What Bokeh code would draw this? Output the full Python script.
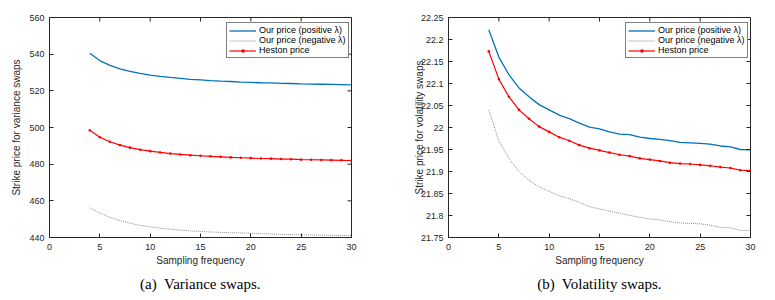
import math
from bokeh.plotting import figure
from bokeh.layouts import row
from bokeh.models import Title, FixedTicker, Range1d
from bokeh.embed import file_html
from bokeh.resources import INLINE

freq = list(range(4, 31))

var_pos = [540.5, 536.5, 533.9, 532.0, 530.6, 529.5, 528.6, 527.9, 527.3, 526.8,
           526.3, 526.0, 525.6, 525.3, 525.1, 524.8, 524.6, 524.4, 524.3, 524.1,
           524.0, 523.8, 523.7, 523.6, 523.5, 523.4, 523.3]
var_neg = [456.2, 453.3, 451.0, 449.3, 447.8, 446.6, 445.8, 445.1, 444.5, 444.0,
           443.6, 443.3, 443.0, 442.8, 442.6, 442.5, 442.3, 442.1, 441.9, 441.7,
           441.6, 441.5, 441.4, 441.3, 441.2, 441.1, 441.0]
var_heston = [498.5, 494.7, 492.2, 490.4, 489.0, 487.9, 487.1, 486.4, 485.8, 485.3,
              484.9, 484.6, 484.3, 484.0, 483.7, 483.5, 483.3, 483.1, 483.0, 482.8,
              482.7, 482.5, 482.4, 482.3, 482.2, 482.1, 482.0]

vol_pos = [22.222, 22.160, 22.120, 22.090, 22.070, 22.052, 22.040, 22.028, 22.020, 22.010,
           22.001, 21.997, 21.990, 21.985, 21.984, 21.978, 21.975, 21.973, 21.970, 21.966,
           21.965, 21.964, 21.962, 21.958, 21.956, 21.950, 21.949]
vol_neg = [22.040, 21.970, 21.930, 21.900, 21.880, 21.865, 21.855, 21.845, 21.838, 21.830,
           21.820, 21.815, 21.810, 21.805, 21.800, 21.796, 21.792, 21.790, 21.786, 21.783,
           21.782, 21.781, 21.778, 21.773, 21.772, 21.766, 21.766]
vol_heston = [22.173, 22.110, 22.070, 22.040, 22.020, 22.002, 21.990, 21.978, 21.970, 21.960,
              21.953, 21.948, 21.943, 21.938, 21.935, 21.930, 21.927, 21.924, 21.920, 21.918,
              21.917, 21.915, 21.913, 21.910, 21.908, 21.903, 21.902]

x_ticks = [0, 5, 10, 15, 20, 25, 30]
var_ticks = [440, 460, 480, 500, 520, 540, 560]
vol_ticks = [21.75, 21.8, 21.85, 21.9, 21.95, 22.0, 22.05, 22.1, 22.15, 22.2, 22.25]
vol_tick_labels = ["21.75", "21.8", "21.85", "21.9", "21.95", "22", "22.05", "22.1", "22.15", "22.2", "22.25"]

series_labels = ["Our price (positive λ)", "Our price (negative λ)", "Heston price"]
captions = ["(a)\u00a0 Variance swaps.", "(b)\u00a0 Volatility swaps."]
y_labels = ["Strike price for variance swaps", "Strike price for volatility swaps"]

AX = "#262626"
FONT = "Liberation Sans"


def style_axis(ax):
    ax.axis_line_color = AX
    ax.axis_line_width = 1
    ax.major_tick_line_color = AX
    ax.major_tick_in = 4
    ax.major_tick_out = 0
    ax.minor_tick_line_color = None
    ax.major_label_text_font = FONT
    ax.major_label_text_font_size = "9px"
    ax.major_label_text_color = AX
    ax.axis_label_text_font = FONT
    ax.axis_label_text_font_size = "10px"
    ax.axis_label_text_font_style = "normal"
    ax.axis_label_text_color = AX


def make(pos, neg, hes, yrange, yticks, ylabels, ylabel, caption, width, left, right, ylab_standoff):
    p = figure(width=width, height=300, output_backend="svg", toolbar_location=None,
               x_range=Range1d(0, 30), y_range=Range1d(*yrange),
               min_border_left=left, min_border_right=right,
               min_border_top=17, min_border_bottom=63)
    p.grid.visible = False
    p.outline_line_color = AX
    p.outline_line_width = 1
    p.background_fill_color = "white"
    p.border_fill_color = "white"

    p.line(freq, pos, line_color="#0072BD", line_width=1.3, legend_label=series_labels[0])
    p.line(freq, neg, line_color="#8c8c8c", line_width=1, line_dash="1 1", legend_label=series_labels[1])
    p.line(freq, hes, line_color="#ff0000", line_width=1.2, legend_label=series_labels[2])
    p.scatter(freq, hes, size=2.6, fill_color="#ff0000", line_color=None, legend_label=series_labels[2])

    # mirrored inward ticks on the top and right edges of the box
    p.ray(x=x_ticks, y=[yrange[1]] * len(x_ticks), length=4, length_units="screen",
          angle=-math.pi / 2, line_color=AX, line_width=1)
    p.ray(x=[30] * len(yticks), y=yticks, length=4, length_units="screen",
          angle=math.pi, line_color=AX, line_width=1)

    p.xaxis.ticker = FixedTicker(ticks=x_ticks)
    p.yaxis.ticker = FixedTicker(ticks=yticks)
    if ylabels is not None:
        p.yaxis.major_label_overrides = {t: l for t, l in zip(yticks, ylabels)}
    style_axis(p.xaxis[0])
    style_axis(p.yaxis[0])
    p.xaxis.axis_label = "Sampling frequency"
    p.yaxis.axis_label = ylabel
    p.xaxis.major_label_standoff = 6
    p.xaxis.axis_label_standoff = 2
    p.yaxis.major_label_standoff = 5
    p.yaxis.axis_label_standoff = ylab_standoff

    p.add_layout(Title(text=caption, align="center", text_font="Liberation Serif",
                       text_font_size="15px", text_font_style="normal", text_color="black",
                       standoff=11), "below")

    lg = p.legend[0]
    lg.location = (177, 179)
    lg.border_line_color = "black"
    lg.border_line_width = 0.8
    lg.background_fill_alpha = 1
    lg.label_text_font = FONT
    lg.label_text_font_size = "9px"
    lg.label_text_color = "black"
    lg.label_height = 9
    lg.glyph_height = 9
    lg.glyph_width = 27
    lg.label_standoff = 3
    lg.spacing = 0
    lg.padding = 2
    lg.margin = 0
    return p


p1 = make(var_pos, var_neg, var_heston, (440, 560), var_ticks, None, y_labels[0], captions[0], 393, 49, 42, 4)
p2 = make(vol_pos, vol_neg, vol_heston, (21.75, 22.25), vol_ticks, vol_tick_labels, y_labels[1], captions[1], 380, 55, 23, -7)

layout = row(p1, p2)
open("out.html", "w").write(file_html(layout, INLINE))
